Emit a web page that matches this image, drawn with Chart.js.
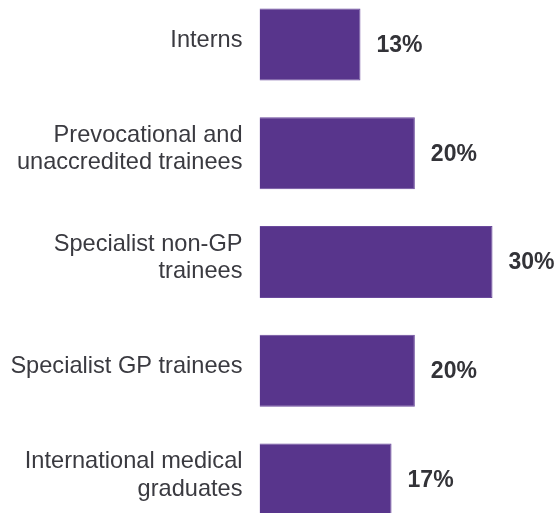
<!DOCTYPE html>
<html>
<head>
<meta charset="utf-8">
<script src="https://cdn.jsdelivr.net/npm/chart.js@4/dist/chart.umd.min.js"></script>
<style>
  html, body { margin: 0; padding: 0; background: #fff; overflow: hidden; }
  #wrap { position: absolute; left: 0; top: -10px; width: 558px; height: 544px; }
</style>
</head>
<body>
<div id="wrap"><canvas id="chart_traineeShare"></canvas></div>
<script>
var categories = [
    'Interns',
    ['Prevocational and', 'unaccredited trainees'],
    ['Specialist non-GP', 'trainees'],
    'Specialist GP trainees',
    ['International medical', 'graduates']
];
var shareValues = [13, 20, 30, 20, 17];
var valueLabels = ['13%', '20%', '30%', '20%', '17%'];

var chart_traineeShare = new Chart(document.getElementById('chart_traineeShare'), {
    type: 'bar',
    data: {
        labels: categories,
        datasets: [
            {
                label: 'Share',
                data: shareValues,
                backgroundColor: '#58358c',
                borderColor: '#6a4a9c',
                borderWidth: 1,
                categoryPercentage: 1,
                barPercentage: 0.662
            }
        ]
    },
    options: {
        indexAxis: 'y',
        animation: false,
        responsive: true,
        maintainAspectRatio: false,
        layout: { padding: 0 },
        plugins: {
            legend: { display: false },
            tooltip: { enabled: false }
        },
        scales: {
            x: {
                display: false,
                min: 0,
                max: 38.43
            },
            y: {
                grid: { display: false, drawTicks: false },
                border: { display: false },
                ticks: {
                    padding: 17,
                    color: '#3a3a40',
                    labelOffset: -4,
                    font: { family: 'Liberation Sans', size: 23.6, lineHeight: 1.16 }
                },
                afterFit: function (scale) {
                    // fixed axis width so bars start where the reference does
                    scale.width = 259.5;
                    scale.paddingTop = 0;
                    scale.paddingBottom = 0;
                }
            }
        }
    },
    plugins: [{
        id: 'valueLabels',
        afterDatasetsDraw: function (chart) {
            var ctx = chart.ctx;
            var meta = chart.getDatasetMeta(0);
            ctx.save();
            ctx.font = 'bold 23px "Liberation Sans"';
            ctx.fillStyle = '#333338';
            ctx.textAlign = 'left';
            ctx.textBaseline = 'middle';
            meta.data.forEach(function (bar, i) {
                ctx.fillText(valueLabels[i], bar.x + 16, bar.y + 1);
            });
            ctx.restore();
        }
    }]
});
</script>
</body>
</html>
